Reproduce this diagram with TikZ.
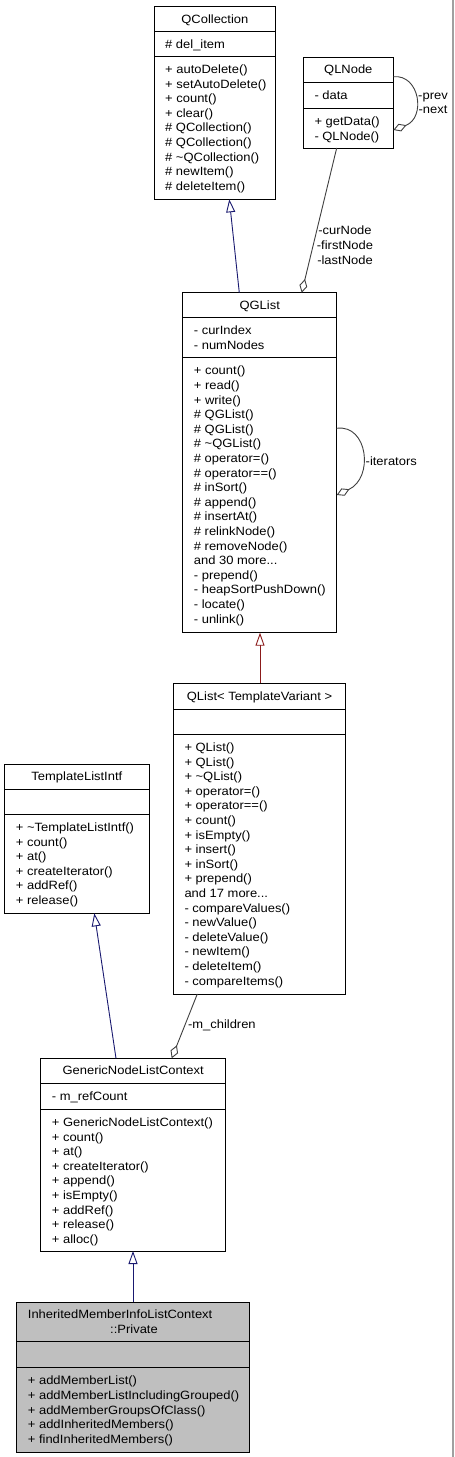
\documentclass[tikz,border=0pt]{standalone}
\usepackage{fontspec}
\setmainfont{Liberation Sans}[FakeStretch=1.08]
\usetikzlibrary{arrows.meta,calc}
\definecolor{navyc}{RGB}{25,25,112}
\definecolor{redc}{RGB}{139,26,26}
\definecolor{aggc}{RGB}{64,64,64}
\definecolor{grayfill}{RGB}{191,191,191}
\definecolor{edgegray}{RGB}{160,160,160}
\newcommand\dgfont{\fontsize{12}{14.6}\selectfont}
\newcommand\dgstrut{\rule{0pt}{10pt}}
\tikzset{
  cls/.style={draw=black, line width=0.9pt, fill=white, inner sep=0pt, outer sep=0pt, anchor=north west},
  sepline/.style={line width=0.9pt},
  txt/.style={inner sep=0pt, anchor=north west, align=left, font=\dgfont},
  ttl/.style={inner sep=0pt, anchor=base, font=\dgfont},
  lbl/.style={inner sep=0pt, font=\dgfont},
  inh/.style={line width=0.9pt, -{Triangle[open, length=13pt, width=9pt]}},
  agg/.style={line width=0.9pt, draw=aggc, -{Diamond[open, length=14pt, width=8pt]}},
}
\begin{document}
\begin{tikzpicture}[x=1pt,y=-1pt]
\fill[white] (0,0) rectangle (455,1457);
\useasboundingbox (0,0) rectangle (455,1457);
\draw[edgegray, line width=1.6pt] (453,0) -- (453,1457);

% QCollection
\node[cls, minimum width=121.7pt, minimum height=192.6pt] (qcoll) at (154,6.7) {};
\draw[sepline] ($(qcoll.north west)+(0,25)$) -- ($(qcoll.north east)+(0,25)$);
\draw[sepline] ($(qcoll.north west)+(0,49.3)$) -- ($(qcoll.north east)+(0,49.3)$);
\node[ttl] (qcoll-t) at (214.85,23.2) {QCollection};
\node[txt] (qcoll-a) at (165,37.8) {\dgstrut\# del\_item};
\node[txt] (qcoll-m) at (165,63.3) {\dgstrut+ autoDelete()\\+ setAutoDelete()\\+ count()\\+ clear()\\\# QCollection()\\\# QCollection()\\\# \textasciitilde QCollection()\\\# newItem()\\\# deleteItem()};

% QLNode
\node[cls, minimum width=90pt, minimum height=90.7pt] (qln) at (303.3,57.3) {};
\draw[sepline] ($(qln.north west)+(0,25)$) -- ($(qln.north east)+(0,25)$);
\draw[sepline] ($(qln.north west)+(0,51)$) -- ($(qln.north east)+(0,51)$);
\node[ttl] (qln-t) at (348.3,73.8) {QLNode};
\node[txt] (qln-a) at (314.3,89.3) {\dgstrut- data};
\node[txt] (qln-m) at (314.3,115.6) {\dgstrut+ getData()\\- QLNode()};

% QGList
\node[cls, minimum width=154pt, minimum height=340pt] (qgl) at (182.7,292.7) {};
\draw[sepline] ($(qgl.north west)+(0,24.6)$) -- ($(qgl.north east)+(0,24.6)$);
\draw[sepline] ($(qgl.north west)+(0,64.6)$) -- ($(qgl.north east)+(0,64.6)$);
\node[ttl] (qgl-t) at (259.7,309) {QGList};
\node[txt] (qgl-a) at (193.7,324.6) {\dgstrut- curIndex\\- numNodes};
\node[txt] (qgl-m) at (193.7,364.6) {\dgstrut+ count()\\+ read()\\+ write()\\\# QGList()\\\# QGList()\\\# \textasciitilde QGList()\\\# operator=()\\\# operator==()\\\# inSort()\\\# append()\\\# insertAt()\\\# relinkNode()\\\# removeNode()\\and 30 more...\\- prepend()\\- heapSortPushDown()\\- locate()\\- unlink()};

% QList< TemplateVariant >
\node[cls, minimum width=172.4pt, minimum height=310.7pt] (ql) at (173.3,683.3) {};
\draw[sepline] ($(ql.north west)+(0,25.7)$) -- ($(ql.north east)+(0,25.7)$);
\draw[sepline] ($(ql.north west)+(0,50.7)$) -- ($(ql.north east)+(0,50.7)$);
\node[ttl] (ql-t) at (259.5,700) {QList< TemplateVariant >};
\node[txt] (ql-m) at (184.3,741.3) {\dgstrut+ QList()\\+ QList()\\+ \textasciitilde QList()\\+ operator=()\\+ operator==()\\+ count()\\+ isEmpty()\\+ insert()\\+ inSort()\\+ prepend()\\and 17 more...\\- compareValues()\\- newValue()\\- deleteValue()\\- newItem()\\- deleteItem()\\- compareItems()};

% TemplateListIntf
\node[cls, minimum width=144.3pt, minimum height=149.3pt] (tli) at (4.7,764) {};
\draw[sepline] ($(tli.north west)+(0,25)$) -- ($(tli.north east)+(0,25)$);
\draw[sepline] ($(tli.north west)+(0,50)$) -- ($(tli.north east)+(0,50)$);
\node[ttl] (tli-t) at (76.85,780.5) {TemplateListIntf};
\node[txt] (tli-m) at (15.7,821.3) {\dgstrut+ \textasciitilde TemplateListIntf()\\+ count()\\+ at()\\+ createIterator()\\+ addRef()\\+ release()};

% GenericNodeListContext
\node[cls, minimum width=185pt, minimum height=192.7pt] (gnl) at (40.7,1058.3) {};
\draw[sepline] ($(gnl.north west)+(0,25)$) -- ($(gnl.north east)+(0,25)$);
\draw[sepline] ($(gnl.north west)+(0,50.7)$) -- ($(gnl.north east)+(0,50.7)$);
\node[ttl] (gnl-t) at (133.2,1074.8) {GenericNodeListContext};
\node[txt] (gnl-a) at (51.7,1090.6) {\dgstrut- m\_refCount};
\node[txt] (gnl-m) at (51.7,1116.3) {\dgstrut+ GenericNodeListContext()\\+ count()\\+ at()\\+ createIterator()\\+ append()\\+ isEmpty()\\+ addRef()\\+ release()\\+ alloc()};

% InheritedMemberInfoListContext::Private
\node[cls, fill=grayfill, minimum width=232.6pt, minimum height=149.7pt] (imp) at (16.7,1302.3) {};
\draw[sepline] ($(imp.north west)+(0,39.4)$) -- ($(imp.north east)+(0,39.4)$);
\draw[sepline] ($(imp.north west)+(0,65)$) -- ($(imp.north east)+(0,65)$);
\node[ttl, anchor=base west] (imp-t1) at (27.7,1318.3) {InheritedMemberInfoListContext};
\node[ttl] (imp-t2) at (134,1333) {::Private};
\node[txt] (imp-m) at (27.7,1374.6) {\dgstrut+ addMemberList()\\+ addMemberListIncludingGrouped()\\+ addMemberGroupsOfClass()\\+ addInheritedMembers()\\+ findInheritedMembers()};

% connectors
\draw[inh, navyc] ($(qgl.north west)+(56.6,0)$) -- ($(qcoll.south west)+(75.3,0)$);
\draw[agg] ($(qln.south west)+(33.4,0)$) -- ($(qgl.north west)+(119,0)$);
\node[lbl, anchor=north, align=center] (lbl-cur) at (345,224.7) {\dgstrut-curNode\\-firstNode\\-lastNode};
\draw[agg] ($(qgl.north east)+(0,135.6)$) .. controls (368,424) and (374,478) .. ($(qgl.north east)+(0,202.3)$);
\node[lbl, anchor=base west] (lbl-it) at (365.5,465.7) {-iterators};
\draw[agg] ($(qln.north east)+(0,19.4)$) .. controls (420,74) and (426,118) .. ($(qln.north east)+(0,72.7)$);
\node[lbl, anchor=north, align=center] (lbl-pn) at (433,89) {\dgstrut-prev\\-next};
\draw[inh, redc] ($(ql.north west)+(86.7,0)$) -- ($(qgl.south west)+(77.3,0)$);
\draw[inh, navyc] ($(gnl.north west)+(75.3,0)$) -- ($(tli.south west)+(89.6,0)$);
\draw[agg] ($(ql.south west)+(24,0)$) -- ($(gnl.north west)+(131,0)$);
\node[lbl, anchor=base west] (lbl-mc) at (187.8,1028.3) {-m\_children};
\draw[inh, navyc] ($(imp.north west)+(116.3,0)$) -- ($(gnl.south west)+(92.3,0)$);
\end{tikzpicture}
\end{document}
